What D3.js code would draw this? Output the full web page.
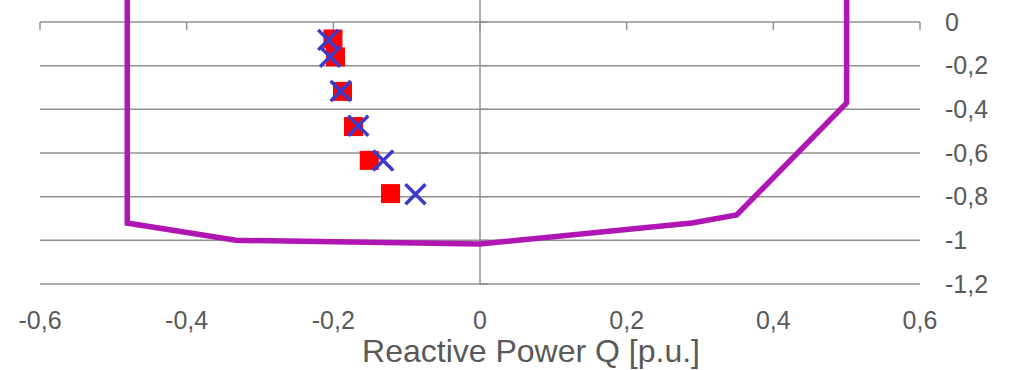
<!DOCTYPE html>
<meta charset="utf-8">
<style>
body { margin: 0; background: #fff; }
svg text { font-family: 'Liberation Sans', Arial, sans-serif; fill: #595959; }
</style>
<body>
<svg id="chart"></svg>
<script src="https://d3js.org/d3.v7.min.js"></script>
<script>
// capability curve (magenta)
var limitQ = [-0.481, -0.481, -0.333, 0, 0.289, 0.35, 0.5, 0.5];
var limitP = [0.2, -0.921, -1.0, -1.017, -0.921, -0.884, -0.371, 0.2];

// measured points (red squares)
var measQ = [-0.2005, -0.197, -0.1875, -0.1725, -0.151, -0.122];
var measP = [-0.078, -0.160, -0.318, -0.479, -0.634, -0.786];

// simulated points (blue crosses)
var simQ = [-0.207, -0.2045, -0.190, -0.166, -0.132, -0.088];
var simP = [-0.082, -0.159, -0.316, -0.475, -0.634, -0.789];

var xTicks = [-0.6, -0.4, -0.2, 0, 0.2, 0.4, 0.6];
var yTicks = [0, -0.2, -0.4, -0.6, -0.8, -1, -1.2];

var W = 1012, H = 370;
var svg = d3.select("#chart").attr("width", W).attr("height", H);

var x = d3.scaleLinear().domain([-0.6, 0.6]).range([40, 920]);
var y = d3.scaleLinear().domain([-1.2, 0.2]).range([284, -21.7]);

var fmt = function(d) { return String(d).replace(".", ","); };
var grid = "#929292";

// horizontal gridlines
svg.selectAll(".grid")
    .data(yTicks)
  .enter().append("line")
    .attr("x1", x(-0.6)).attr("x2", x(0.6))
    .attr("y1", function(d) { return y(d); })
    .attr("y2", function(d) { return y(d); })
    .attr("stroke", grid).attr("stroke-width", 1.5);

// vertical axis at Q = 0
svg.append("line")
    .attr("x1", x(0)).attr("x2", x(0))
    .attr("y1", y(0.2)).attr("y2", y(-1.2))
    .attr("stroke", grid).attr("stroke-width", 1.5);

// tick marks on P = 0 line
svg.selectAll(".xtick")
    .data(xTicks)
  .enter().append("line")
    .attr("x1", function(d) { return x(d); })
    .attr("x2", function(d) { return x(d); })
    .attr("y1", y(0)).attr("y2", y(0) + 8)
    .attr("stroke", grid).attr("stroke-width", 1.5);

// tick marks on vertical axis
svg.selectAll(".ytick")
    .data(yTicks)
  .enter().append("line")
    .attr("x1", x(0)).attr("x2", x(0) + 8)
    .attr("y1", function(d) { return y(d); })
    .attr("y2", function(d) { return y(d); })
    .attr("stroke", grid).attr("stroke-width", 1.5);

// x labels
svg.selectAll(".xlab")
    .data(xTicks)
  .enter().append("text")
    .attr("x", function(d) { return x(d); })
    .attr("y", 329)
    .attr("text-anchor", "middle")
    .style("font-size", "25px")
    .text(fmt);

// y labels on the right
svg.selectAll(".ylab")
    .data(yTicks)
  .enter().append("text")
    .attr("x", 945)
    .attr("y", function(d) { return y(d); })
    .attr("dy", "0.35em")
    .style("font-size", "25px")
    .text(fmt);

svg.append("text")
    .attr("x", 531).attr("y", 362)
    .attr("text-anchor", "middle")
    .style("font-size", "32px")
    .text("Reactive Power Q [p.u.]");

// limit curve
var line = d3.line()
    .x(function(d) { return x(d[0]); })
    .y(function(d) { return y(d[1]); });

svg.append("path")
    .datum(d3.zip(limitQ, limitP))
    .attr("d", line)
    .attr("fill", "none")
    .attr("stroke", "#b016b4")
    .attr("stroke-width", 5.5)
    .attr("stroke-linejoin", "miter");

// red squares
var sq = 19;
svg.selectAll(".meas")
    .data(d3.zip(measQ, measP))
  .enter().append("rect")
    .attr("x", function(d) { return x(d[0]) - sq / 2; })
    .attr("y", function(d) { return y(d[1]) - sq / 2; })
    .attr("width", sq).attr("height", sq)
    .attr("fill", "#ff0000");

// blue crosses
var cr = 10;
svg.selectAll(".sim")
    .data(d3.zip(simQ, simP))
  .enter().append("path")
    .attr("d", function(d) {
      var cx = x(d[0]), cy = y(d[1]);
      return "M" + (cx - cr) + "," + (cy - cr) + "L" + (cx + cr) + "," + (cy + cr) +
             "M" + (cx - cr) + "," + (cy + cr) + "L" + (cx + cr) + "," + (cy - cr);
    })
    .attr("stroke", "#3a3acc")
    .attr("stroke-width", 3.5)
    .attr("fill", "none");
</script>
</body>
